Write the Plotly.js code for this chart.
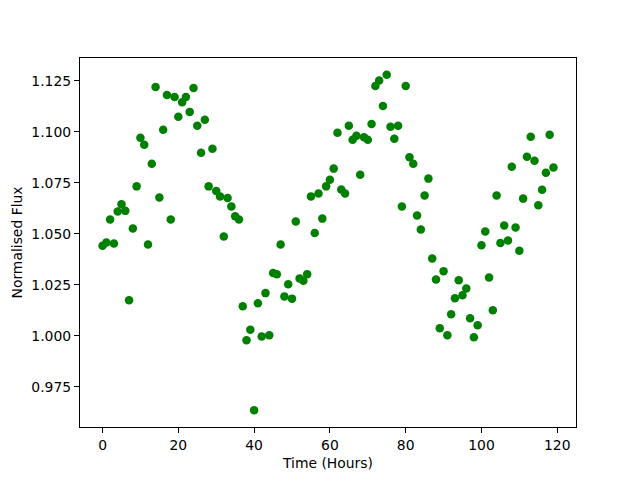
<!DOCTYPE html>
<html>
<head>
<meta charset="utf-8">
<script src="https://cdn.plot.ly/plotly-3.0.1.min.js"></script>
<style>html,body{margin:0;padding:0;background:#fff;}#chart{width:640px;height:480px;}</style>
</head>
<body>
<div id="chart"></div>
<script>
const timeHours = [0,1,2,3,4,5,6,7,8,9,10,11,12,13,14,15,16,17,18,19,
  20,21,22,23,24,25,26,27,28,29,30,31,32,33,34,35,36,37,38,39,
  40,41,42,43,44,45,46,47,48,49,50,51,52,53,54,55,56,57,58,59,
  60,61,62,63,64,65,66,67,68,69,70,71,72,73,74,75,76,77,78,79,
  80,81,82,83,84,85,86,87,88,89,90,91,92,93,94,95,96,97,98,99,
  100,101,102,103,104,105,106,107,108,109,110,111,112,113,114,115,116,117,118,119];

const normalisedFlux = [
  1.0441,1.0457,1.0570,1.0452,1.0609,1.0644,1.0612,1.0174,1.0526,1.0732,
  1.0970,1.0936,1.0447,1.0843,1.1219,1.0677,1.1009,1.1180,1.0570,1.1170,
  1.1073,1.1144,1.1170,1.1097,1.1214,1.1029,1.0897,1.1058,1.0732,1.0916,
  1.0709,1.0683,1.0486,1.0675,1.0634,1.0586,1.0570,1.0145,0.9978,1.0029,
  0.9635,1.0159,0.9996,1.0209,1.0003,1.0307,1.0301,1.0447,1.0193,1.0252,
  1.0182,1.0560,1.0281,1.0270,1.0302,1.0683,1.0503,1.0697,1.0574,1.0732,
  1.0765,1.0819,1.0995,1.0717,1.0697,1.1029,1.0960,1.0980,1.0789,1.0973,
  1.0960,1.1038,1.1224,1.1251,1.1126,1.1279,1.1024,1.0965,1.1029,1.0633,
  1.1224,1.0875,1.0843,1.0589,1.0521,1.0687,1.0770,1.0379,1.0276,1.0037,
  1.0316,1.0003,1.0105,1.0184,1.0272,1.0198,1.0232,1.0086,0.9993,1.0052,
  1.0443,1.0511,1.0286,1.0125,1.0687,1.0454,1.0540,1.0467,1.0828,1.0530,
  1.0417,1.0672,1.0877,1.0975,1.0858,1.0639,1.0716,1.0799,1.0985,1.0824];

const xTicks = [0,20,40,60,80,100,120];
const yTicks = [0.975,1.000,1.025,1.050,1.075,1.100,1.125];
const yTickLabels = ["0.975","1.000","1.025","1.050","1.075","1.100","1.125"];

const font = {family: "DejaVu Sans, sans-serif", size: 13.9, color: "#000"};

const trace = {
  x: timeHours,
  y: normalisedFlux,
  mode: "markers",
  type: "scatter",
  marker: {color: "#008000", size: 8.5, line: {width: 0}}
};

const layout = {
  width: 640, height: 480,
  margin: {l: 80, r: 64, t: 58, b: 53, pad: 0},
  paper_bgcolor: "#fff", plot_bgcolor: "#fff",
  showlegend: false,
  font: font,
  xaxis: {
    range: [-5.95, 124.95],
    tickvals: xTicks,
    ticks: "outside", ticklen: 5, tickwidth: 1.1, tickcolor: "#000",
    showline: true, mirror: true, linecolor: "#000", linewidth: 1.1,
    showgrid: false, zeroline: false,
    tickfont: font,
    title: {text: "Time (Hours)", font: font, standoff: 6}
  },
  yaxis: {
    range: [0.9553, 1.1361],
    tickvals: yTicks,
    ticktext: yTickLabels,
    ticks: "outside", ticklen: 5, tickwidth: 1.1, tickcolor: "#000",
    showline: true, mirror: true, linecolor: "#000", linewidth: 1.1,
    showgrid: false, zeroline: false,
    tickfont: font,
    title: {text: "Normalised Flux", font: font, standoff: 5}
  }
};

Plotly.newPlot("chart", [trace], layout, {displayModeBar: false, staticPlot: true});
</script>
</body>
</html>
